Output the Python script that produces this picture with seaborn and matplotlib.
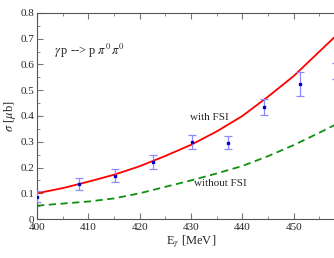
import numpy as np
import pandas as pd
import matplotlib
matplotlib.use("Agg")
import matplotlib.pyplot as plt
import seaborn as sns
from matplotlib.ticker import MultipleLocator

# theory curves
e_fsi = [400, 405, 410, 415, 420, 425, 430, 435, 440, 445, 450, 455, 460]
s_fsi = [0.100, 0.120, 0.145, 0.172, 0.205, 0.245, 0.288, 0.340, 0.400, 0.475, 0.555, 0.650, 0.745]
e_nofsi = [400, 405, 410, 415, 420, 425, 430, 435, 440, 445, 450, 455, 460]
s_nofsi = [0.052, 0.060, 0.068, 0.080, 0.100, 0.125, 0.150, 0.177, 0.206, 0.244, 0.287, 0.335, 0.385]

# data points
e_data = [400.0, 408.2, 415.2, 422.6, 430.1, 437.2, 444.3, 451.2, 458.2]
s_data = [0.087, 0.136, 0.168, 0.220, 0.300, 0.296, 0.434, 0.524, 0.575]
s_err = [0.020, 0.022, 0.026, 0.027, 0.028, 0.026, 0.030, 0.047, 0.032]

x_ticks = [400, 410, 420, 430, 440, 450]
y_ticks = [0, 0.1, 0.2, 0.3, 0.4, 0.5, 0.6, 0.7, 0.8]
y_labels = ["0", "0.1", "0.2", "0.3", "0.4", "0.5", "0.6", "0.7", "0.8"]

sns.set_style("ticks")
plt.rcParams['font.family'] = ['Liberation Serif', 'DejaVu Serif']
plt.rcParams['mathtext.fontset'] = 'stix'

fig = plt.figure(figsize=(3.34, 2.58), dpi=100)
ax = fig.add_axes([0.111, 0.151, 0.922, 0.799])

df1 = pd.DataFrame({"E": e_fsi, "s": s_fsi})
df2 = pd.DataFrame({"E": e_nofsi, "s": s_nofsi})
sns.lineplot(data=df1, x="E", y="s", ax=ax, color="#ff0000", lw=1.3)
sns.lineplot(data=df2, x="E", y="s", ax=ax, color="#109010", lw=1.3, linestyle=(0, (4, 2.5)))

ax.errorbar(e_data, s_data, yerr=s_err, fmt='s', ms=1.8, color="#0000cc",
            ecolor="#8a8aff", elinewidth=0.9, capsize=3, capthick=0.9, zorder=5)

ax.set_xlim(400, 460)
ax.set_ylim(0, 0.8)
ax.set_xticks(x_ticks)
ax.xaxis.set_minor_locator(MultipleLocator(5))
ax.set_yticks(y_ticks)
ax.set_yticklabels(y_labels)
ax.yaxis.set_minor_locator(MultipleLocator(0.05))
ax.tick_params(which='both', direction='in', top=True, right=True, labelsize=8,
               color='#777777')
ax.tick_params(axis='y', pad=2)
ax.tick_params(axis='x', pad=3)
ax.tick_params(which='major', length=4)
ax.tick_params(which='minor', length=2)
for sp in ax.spines.values():
    sp.set_color('#555555')
    sp.set_linewidth(0.8)

ax.set_xlabel(r"E$_\gamma$ [MeV]", fontsize=9, labelpad=1)
ax.set_ylabel(r"$\sigma$ [$\mu$b]", fontsize=9, labelpad=2)

ax.text(403.3, 0.635, r"$\gamma\,$p --> p $\pi^0\,\pi^0$", fontsize=9)
ax.text(429.8, 0.385, "with FSI", fontsize=8)
ax.text(430.5, 0.128, "without FSI", fontsize=8)

fig.savefig("out.png", dpi=100)
